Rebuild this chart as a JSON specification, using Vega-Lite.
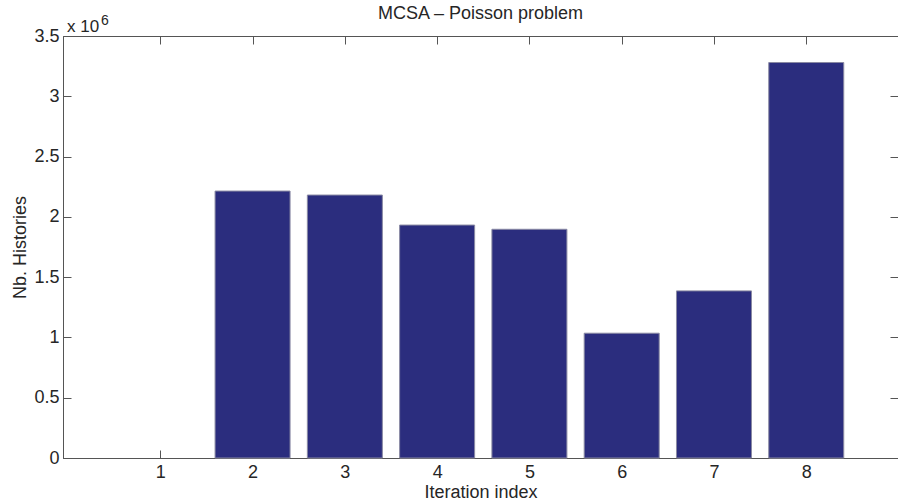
{
  "$schema": "https://vega.github.io/schema/vega-lite/v6.json",
  "width": 835,
  "height": 422,
  "autosize": {"type": "none"},
  "padding": {"left": 63, "top": 36, "right": 0, "bottom": 45},
  "background": "white",
  "title": {
    "text": "MCSA – Poisson problem",
    "font": "Liberation Sans",
    "fontSize": 18,
    "fontWeight": "normal",
    "color": "#262626",
    "anchor": "middle",
    "frame": "group",
    "baseline": "alphabetic",
    "offset": -23
  },
  "config": {
    "font": "Liberation Sans",
    "view": {"stroke": "#555555", "strokeWidth": 1},
    "axis": {
      "grid": false,
      "domainColor": "#555555",
      "tickColor": "#555555",
      "tickSize": -8,
      "labelColor": "#262626",
      "labelFont": "Liberation Sans",
      "labelFontSize": 18,
      "titleFont": "Liberation Sans",
      "titleFontSize": 18,
      "titleFontWeight": "normal",
      "titleColor": "#262626"
    }
  },
  "data": {
    "values": [
      {"iteration": 1, "histories": 0},
      {"iteration": 2, "histories": 2214000},
      {"iteration": 3, "histories": 2181000},
      {"iteration": 4, "histories": 1932000},
      {"iteration": 5, "histories": 1897000},
      {"iteration": 6, "histories": 1035000},
      {"iteration": 7, "histories": 1386000},
      {"iteration": 8, "histories": 3280000}
    ]
  },
  "layer": [
    {
      "mark": {"type": "bar", "width": 75, "fill": "#2b2d7e", "stroke": "#8a8aa3", "strokeWidth": 1},
      "encoding": {
        "x": {
          "field": "iteration",
          "type": "quantitative",
          "scale": {"domain": [0, 8.94], "nice": false, "zero": false},
          "axis": {
            "orient": "bottom",
            "values": [1, 2, 3, 4, 5, 6, 7, 8],
            "title": "Iteration index",
            "labelPadding": 13,
            "titlePadding": 2
          }
        },
        "y": {
          "field": "histories",
          "type": "quantitative",
          "scale": {"domain": [0, 3500000], "nice": false},
          "axis": {
            "orient": "left",
            "values": [0, 500000, 1000000, 1500000, 2000000, 2500000, 3000000, 3500000],
            "labelExpr": "datum.value / 1000000",
            "title": "Nb. Histories",
            "labelPadding": 12,
            "titlePadding": 4
          }
        },
        "strokeOpacity": {
          "condition": {"test": "datum.histories > 0", "value": 1},
          "value": 0
        }
      }
    },
    {
      "data": {"values": [{"label": "x 10"}]},
      "mark": {"type": "text", "align": "left", "baseline": "alphabetic", "dx": -1, "dy": -4, "fontSize": 17, "color": "#262626", "font": "Liberation Sans"},
      "encoding": {
        "x": {
          "datum": 0,
          "type": "quantitative",
          "axis": {"orient": "top", "values": [1, 2, 3, 4, 5, 6, 7, 8], "labels": false, "domain": false, "title": null}
        },
        "y": {
          "datum": 3500000,
          "type": "quantitative",
          "axis": {"orient": "right", "values": [0, 500000, 1000000, 1500000, 2000000, 2500000, 3000000, 3500000], "labels": false, "domain": false, "title": null}
        },
        "text": {"field": "label"}
      }
    },
    {
      "data": {"values": [{"label": "6"}]},
      "mark": {"type": "text", "align": "left", "baseline": "alphabetic", "dx": 33, "dy": -11, "fontSize": 14, "color": "#262626", "font": "Liberation Sans"},
      "encoding": {
        "x": {"datum": 0, "type": "quantitative", "axis": null},
        "y": {"datum": 3500000, "type": "quantitative", "axis": null},
        "text": {"field": "label"}
      }
    }
  ],
  "resolve": {"axis": {"x": "independent", "y": "independent"}}
}
